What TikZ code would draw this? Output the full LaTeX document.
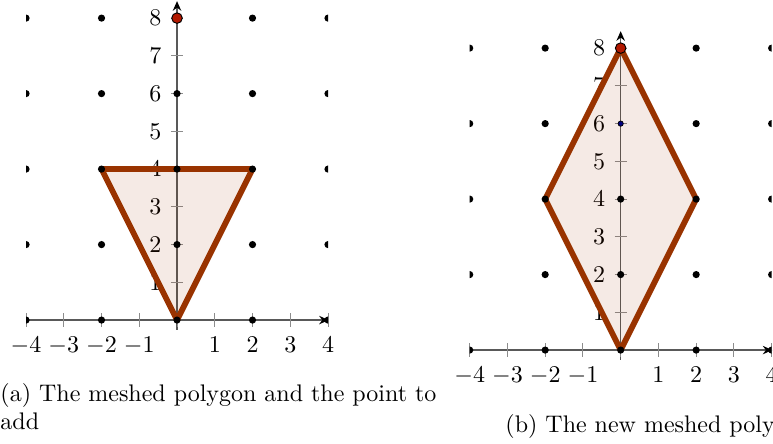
\documentclass[tikz,border=0pt]{standalone}
\usetikzlibrary{arrows.meta}
\definecolor{polyedge}{RGB}{153,51,0}
\definecolor{newpoint}{RGB}{178,24,0}
\definecolor{midpoint}{RGB}{0,0,128}
\tikzset{
    axisline/.style={black!65,line width=.6pt,-{Stealth[black,length=4pt,width=3.5pt]}},
    tickmark/.style={black!45,line width=.4pt},
    meshpoly/.style={polyedge,line width=2.4pt,line join=round,fill=polyedge,fill opacity=.1},
    griddot/.style={fill=black},
}
\begin{document}
\begin{tikzpicture}[x=0.553cm,y=0.553cm]
    \clip (-4.69,-3.26) rectangle (15.79,8.48);
    % axes of both panels
    \foreach \ox/\oy/\p in {0/0/a,11.754/-0.795/b}
    {
        \begin{scope}[shift={(\ox,\oy)}]
            \draw[axisline](-4,0)--(4.02,0);
            \draw[axisline](0,-.25)--(0,8.45);
            \foreach \x in {-4,...,4}
                \draw[tickmark](\x,-.18)--(\x,.18);
            \foreach \x in {-4,-3,-2,-1,1,2,3,4}
                \node[anchor=base](\p x\x) at (\x,-.87){$\x$};
            \foreach \y in {1,...,8}
            {
                \draw[tickmark](-.16,\y)--(.16,\y);
                \node[anchor=east,inner sep=0pt](\p y\y) at (-.4,\y){$\y$};
            }
        \end{scope}
    }
    % polygons
    \draw[meshpoly](0,0)--(2,4)--(-2,4)--cycle;
    \draw[meshpoly,shift={(11.754,-.795)}](0,0)--(2,4)--(0,8)--(-2,4)--cycle;
    % mesh points
    \foreach \ox/\oy/\top in {0/0/6,11.754/-0.795/4}
    {
        \begin{scope}[shift={(\ox,\oy)}]
            \clip (-4,-.25) rectangle (4,8.45);
            \foreach \x in {-4,-2,2,4}
                \foreach \y in {0,2,...,8}
                    \fill[griddot](\x,\y) circle (1.5pt);
            \foreach \y in {0,2,...,\top}
                \fill[griddot](0,\y) circle (1.5pt);
            \filldraw[fill=newpoint,draw=black,line width=.4pt](0,8) circle (2.2pt);
        \end{scope}
    }
    \filldraw[fill=midpoint,draw=black,line width=.3pt](11.754,5.205) circle (1.1pt);
    % captions
    \node[anchor=base west,align=left,inner sep=0pt,font=\fontsize{10}{11.5}\selectfont](capa) at (-4.69,-2.887)
        {(a) The meshed polygon and the point to\\add};
    \node[anchor=base west,inner sep=0pt](capb) at (8.689,-2.967){(b) The new meshed polygon};
\end{tikzpicture}
\end{document}
